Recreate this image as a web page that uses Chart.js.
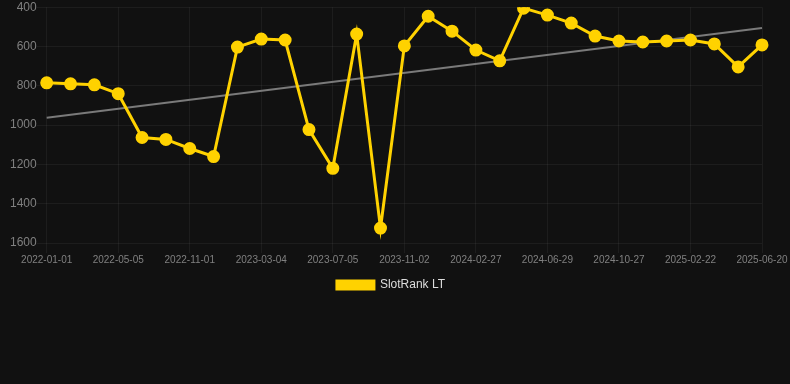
<!DOCTYPE html>
<html>
<head>
<meta charset="utf-8">
<script src="https://cdn.jsdelivr.net/npm/chart.js@4"></script>
<style>
    html, body { margin: 0; padding: 0; background: #111111; overflow: hidden; }
    #wrap { width: 790px; height: 301px; }
</style>
</head>
<body>
<div id="wrap"><canvas id="rank-chart"></canvas></div>
<script>
// dates (only every third one is labelled on the axis)
const dates = [
    '2022-01-01', '2022-02-11', '2022-03-24', '2022-05-05', '2022-06-24', '2022-08-23',
    '2022-11-01', '2022-12-10', '2023-01-25', '2023-03-04', '2023-04-14', '2023-05-25',
    '2023-07-05', '2023-08-14', '2023-09-23', '2023-11-02', '2023-12-12', '2024-01-19',
    '2024-02-27', '2024-04-08', '2024-05-19', '2024-06-29', '2024-08-08', '2024-09-17',
    '2024-10-27', '2024-12-05', '2025-01-13', '2025-02-22', '2025-04-02', '2025-05-11',
    '2025-06-20'
];

const rankValues = [
    785, 790, 795, 840, 1063, 1073, 1119, 1160, 603, 562, 567, 1023,
    1220, 537, 1524, 597, 446, 522, 618, 673, 405, 440, 481, 547,
    572, 577, 572, 567, 587, 704, 592
];

// trend line end points, gaps are spanned
const trendStart = 962;
const trendEnd = 506;
const trendValues = dates.map((d, i) => i === 0 ? trendStart : (i === dates.length - 1 ? trendEnd : null));

const yTicks = [400, 600, 800, 1000, 1200, 1400, 1600];

document.addEventListener('DOMContentLoaded', function () {
    const ctx = document.getElementById('rank-chart').getContext('2d');
    new Chart(ctx, {
        type: 'line',
        data: {
            labels: dates,
            datasets: [{
                label: 'SlotRank LT',
                data: rankValues,
                borderColor: '#ffd200',
                backgroundColor: '#ffd200',
                borderWidth: 3,
                pointRadius: 5,
                pointHoverRadius: 6,
                tension: 0
            }, {
                label: 'trend',
                data: trendValues,
                borderColor: '#7a7a7a',
                borderWidth: 2,
                pointRadius: 0,
                spanGaps: true
            }]
        },
        options: {
            responsive: true,
            maintainAspectRatio: false,
            animation: false,
            layout: { autoPadding: false, padding: { top: 0, left: 10, right: 18, bottom: 0 } },
            scales: {
                x: {
                    grid: { color: 'rgba(255,255,255,0.05)', tickLength: 10 },
                    border: { display: false },
                    ticks: {
                        color: '#808080',
                        padding: 1,
                        font: { size: 10, family: 'Arial, Liberation Sans, sans-serif' },
                        maxRotation: 0,
                        autoSkip: true,
                        maxTicksLimit: 11
                    }
                },
                y: {
                    reverse: true,
                    min: yTicks[0],
                    max: yTicks[yTicks.length - 1],
                    afterBuildTicks: axis => { axis.ticks = yTicks.map(v => ({ value: v })); },
                    grid: { color: 'rgba(255,255,255,0.05)', tickLength: 10 },
                    border: { display: false },
                    ticks: {
                        color: '#808080',
                        padding: 0,
                        font: { size: 12, family: 'Arial, Liberation Sans, sans-serif' },
                        callback: v => String(v)
                    }
                },
                // empty spacer on the right, keeps room for the last date label
                spacer: {
                    type: 'linear',
                    position: 'right',
                    grid: { display: false },
                    border: { display: false },
                    ticks: { display: false },
                    afterFit: axis => { axis.width = 10; }
                }
            },
            plugins: {
                legend: {
                    position: 'bottom',
                    labels: {
                        color: '#ddd',
                        boxWidth: 37,
                        boxHeight: 8,
                        padding: 12,
                        font: { size: 12, family: 'Arial, Liberation Sans, sans-serif' },
                        filter: item => item.text !== 'trend'
                    }
                },
                tooltip: { enabled: false }
            }
        }
    });
});
</script>
</body>
</html>
